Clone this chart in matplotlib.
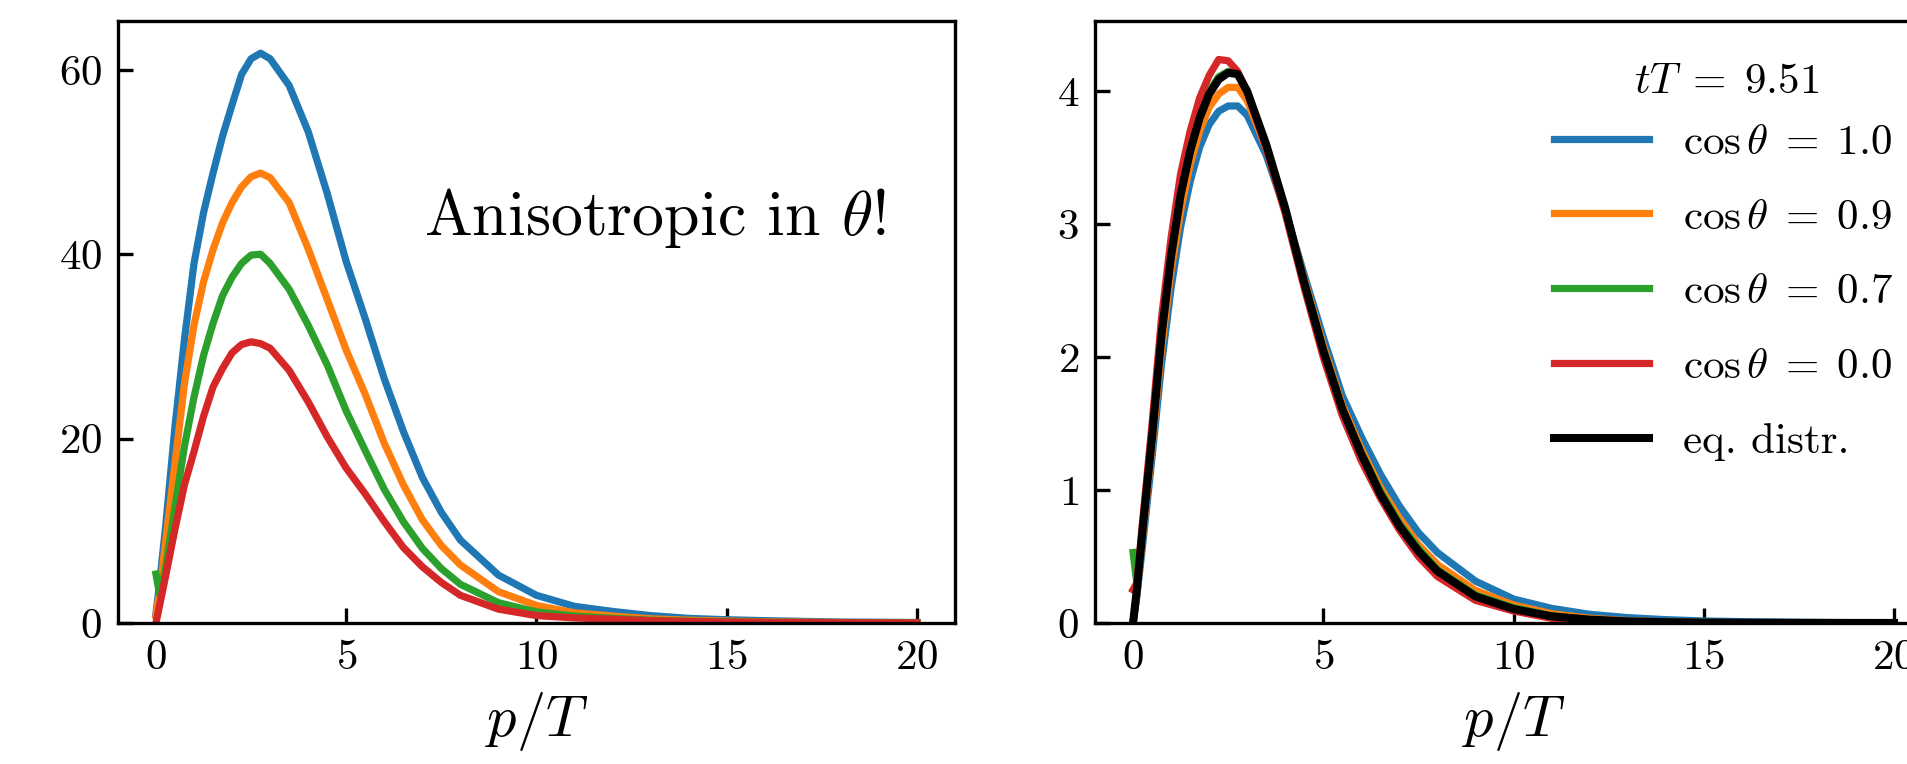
"""Momentum distributions at fixed angle: anisotropic start vs. late-time equilibrium."""

import matplotlib

matplotlib.use("Agg")
import matplotlib.pyplot as plt

plt.rcParams.update({
    "font.family": "serif",
    "font.serif": ["cmr10"],
    "mathtext.fontset": "cm",
    "axes.formatter.use_mathtext": True,
    "axes.unicode_minus": False,
})

# momentum grid p/T shared by every curve
P = [0.0, 0.1, 0.25, 0.5, 0.75, 1.0, 1.25, 1.5, 1.75, 2.0, 2.25, 2.5, 2.75,
     3.0, 3.5, 4.0, 4.5, 5.0, 5.5, 6.0, 6.5, 7.0, 7.5, 8.0, 9.0, 10.0,
     11.0, 12.0, 13.0, 14.0, 15.0, 16.0, 18.0, 20.0]

LABELS = [r"$\cos\theta\;=\;1.0$", r"$\cos\theta\;=\;0.9$",
          r"$\cos\theta\;=\;0.7$", r"$\cos\theta\;=\;0.0$"]
COLORS = ["#1f77b4", "#ff7f0e", "#2ca02c", "#d62728"]
TITLE = r"$tT\;=\;9.51$"

# left panel: initial (anisotropic) distribution
LEFT_COS10 = [1.0, 4.5, 10.3, 21.3, 30.8, 39.0, 44.5, 48.8, 52.8, 56.2, 59.5, 61.2, 61.8,
              61.2, 58.3, 53.3, 46.6, 39.2, 33.0, 26.5, 20.8, 15.8, 12.0, 9.0, 5.2, 3.0,
              1.8, 1.25, 0.8, 0.5, 0.35, 0.25, 0.1, 0.05]
LEFT_COS09 = [0.8, 3.5, 8.7, 17.3, 26.0, 32.3, 37.0, 40.5, 43.4, 45.6, 47.3, 48.4, 48.8,
              48.3, 45.6, 40.6, 35.1, 29.6, 24.8, 19.5, 15.0, 11.2, 8.4, 6.3, 3.4, 1.9,
              1.1, 0.75, 0.45, 0.3, 0.2, 0.12, 0.05, 0.02]
LEFT_COS07 = [5.3, 3.0, 5.9, 12.6, 19.2, 24.5, 29.0, 32.5, 35.5, 37.5, 39.0, 39.9, 40.0,
              39.0, 36.2, 32.3, 28.0, 23.0, 18.7, 14.5, 11.0, 8.1, 5.9, 4.2, 2.2, 1.2,
              0.75, 0.5, 0.3, 0.2, 0.12, 0.08, 0.03, 0.01]
LEFT_COS00 = [0.0, 2.0, 5.0, 10.2, 15.0, 18.6, 22.4, 25.6, 27.6, 29.3, 30.2, 30.5, 30.3,
              29.8, 27.4, 24.0, 20.2, 16.8, 14.0, 11.0, 8.2, 6.1, 4.4, 3.0, 1.5, 0.8,
              0.55, 0.4, 0.25, 0.15, 0.1, 0.06, 0.02, 0.01]

# right panel: distribution at tT = 9.51
RIGHT_COS10 = [0.0, 0.2, 0.58, 1.25, 1.95, 2.52, 2.98, 3.32, 3.58, 3.75, 3.85, 3.89, 3.89,
               3.82, 3.52, 3.10, 2.62, 2.15, 1.71, 1.40, 1.12, 0.88, 0.68, 0.53, 0.315, 0.18,
               0.11, 0.065, 0.04, 0.025, 0.015, 0.01, 0.004, 0.001]
RIGHT_COS09 = [0.0, 0.22, 0.64, 1.33, 2.06, 2.65, 3.10, 3.45, 3.70, 3.88, 3.98, 4.03, 4.03,
               3.93, 3.57, 3.11, 2.59, 2.09, 1.64, 1.31, 1.02, 0.79, 0.59, 0.44, 0.245, 0.135,
               0.07, 0.035, 0.017, 0.008, 0.004, 0.002, 0.0007, 0.0002]
RIGHT_COS07 = [0.53, 0.3, 0.71, 1.42, 2.19, 2.78, 3.24, 3.57, 3.82, 4.00, 4.11, 4.15, 4.13,
               4.00, 3.60, 3.12, 2.57, 2.06, 1.61, 1.28, 0.99, 0.75, 0.56, 0.40, 0.21, 0.115,
               0.055, 0.025, 0.012, 0.006, 0.003, 0.0015, 0.0005, 0.0001]
RIGHT_COS00 = [0.25, 0.3, 0.76, 1.50, 2.30, 2.90, 3.38, 3.70, 3.95, 4.12, 4.24, 4.23, 4.15,
               4.00, 3.57, 3.08, 2.52, 2.00, 1.56, 1.22, 0.94, 0.70, 0.50, 0.35, 0.17, 0.09,
               0.035, 0.012, 0.006, 0.003, 0.0015, 0.0008, 0.0002, 0.0001]
RIGHT_EQ = [0.0, 0.25, 0.70, 1.40, 2.17, 2.76, 3.22, 3.55, 3.80, 3.98, 4.09, 4.14, 4.13,
            4.00, 3.60, 3.12, 2.56, 2.05, 1.61, 1.27, 0.97, 0.73, 0.54, 0.39, 0.20, 0.105,
            0.05, 0.025, 0.012, 0.006, 0.003, 0.0015, 0.0005, 0.0001]

LW = 2.6


def style_axes(ax):
    ax.tick_params(direction="in", length=5.5, width=1.2, labelsize=15.5, pad=5.8,
                   top=False, right=False)
    for spine in ax.spines.values():
        spine.set_linewidth(1.2)
    ax.set_xlabel(r"$p/T$", fontsize=21, labelpad=5)
    ax.set_xticks([0, 5, 10, 15, 20])
    ax.set_xlim(-1, 21)


def main() -> None:
    fig = plt.figure(figsize=(9.54, 3.82), dpi=200)
    ax_l = fig.add_axes([0.0618, 0.1846, 0.4387, 0.788])
    ax_r = fig.add_axes([0.5739, 0.1846, 0.4387, 0.788])

    for values, color in zip([LEFT_COS10, LEFT_COS09, LEFT_COS07, LEFT_COS00], COLORS):
        ax_l.plot(P, values, color=color, lw=LW)
    ax_l.set_ylim(0, 65.3)
    ax_l.set_yticks([0, 20, 40, 60])
    ax_l.text(7.05, 42.1, r"Anisotropic in $\theta$!", fontsize=23, va="baseline")
    style_axes(ax_l)

    right = [RIGHT_COS10, RIGHT_COS09, RIGHT_COS07, RIGHT_COS00]
    for values, color, label in zip(right, COLORS, LABELS):
        ax_r.plot(P, values, color=color, lw=LW, label=label)
    ax_r.plot(P, RIGHT_EQ, color="black", lw=LW + 0.3, label="eq. distr.")
    ax_r.set_ylim(0, 4.53)
    ax_r.set_yticks([0, 1, 2, 3, 4])
    style_axes(ax_r)
    # legend title placed by hand so it sits closer to the first entry
    ax_r.legend(loc="upper right", bbox_to_anchor=(0.974, 0.858), borderaxespad=0,
                frameon=False, fontsize=15.5, handlelength=2.2,
                handletextpad=0.8, labelspacing=0.85)
    ax_r.text(0.755, 0.898, TITLE, transform=ax_r.transAxes, fontsize=15.5,
              ha="center", va="center")

    fig.savefig("out.png", dpi=200)
    plt.close(fig)


if __name__ == "__main__":
    main()
